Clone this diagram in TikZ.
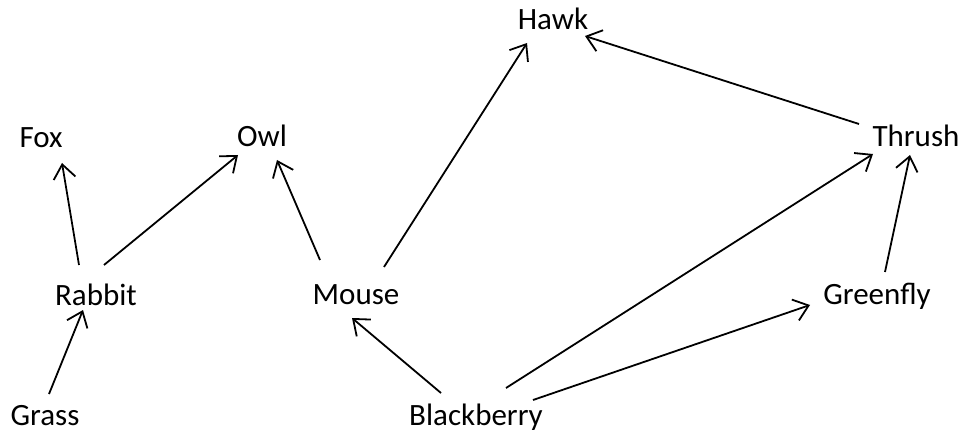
\documentclass[tikz,border=0pt]{standalone}
\usepackage{fontspec}
\setmainfont{Carlito}
\usetikzlibrary{arrows.meta,calc}
\begin{document}
\begin{tikzpicture}[x=1pt,y=1pt,
  species/.style={anchor=base,inner sep=0pt,font=\fontsize{31}{37}\selectfont},
  feeds/.style={line width=1.8pt,-{Straight Barb[length=14pt,width=22pt,line width=1.8pt]}}]
  \useasboundingbox (0,0) rectangle (962,432);
  % organisms, placed by text baseline
  \node[species] (hawk)       at (553,402) {Hawk};
  \node[species] (fox)        at (41,284)  {Fox};
  \node[species] (owl)        at (262,285) {Owl};
  \node[species] (thrush)     at (916,285) {Thrush};
  \node[species] (rabbit)     at (96,127)  {Rabbit};
  \node[species] (mouse)      at (356,128) {Mouse};
  \node[species] (greenfly)   at (877,128) {Greenfly};
  \node[species] (grass)      at (45,7)    {Grass};
  \node[species] (blackberry) at (476,7)   {Blackberry};
  % energy flow: food -> consumer
  \draw[feeds] ($(rabbit.base)+(-17,40)$) -- ($(fox.base)+(21,-15)$);
  \draw[feeds] ($(rabbit.base)+(8,40)$) -- ($(owl.base)+(-24,-8)$);
  \draw[feeds] ($(grass.base)+(4,31)$) -- ($(rabbit.base)+(-13,-5)$);
  \draw[feeds] ($(mouse.base)+(-36,44)$) -- ($(owl.base)+(15,-13)$);
  \draw[feeds] ($(mouse.base)+(28,37)$) -- ($(hawk.base)+(-26,-13)$);
  \draw[feeds] ($(thrush.base)+(-57,23)$) -- ($(hawk.base)+(32,-6)$);
  \draw[feeds] ($(blackberry.base)+(-35,32)$) -- ($(mouse.base)+(-4,-14)$);
  \draw[feeds] ($(blackberry.base)+(30,37)$) -- ($(thrush.base)+(-43,-7)$);
  \draw[feeds] ($(blackberry.base)+(57,25)$) -- ($(greenfly.base)+(-67,-1)$);
  \draw[feeds] ($(greenfly.base)+(8,32)$) -- ($(thrush.base)+(-6,-8)$);
\end{tikzpicture}
\end{document}
